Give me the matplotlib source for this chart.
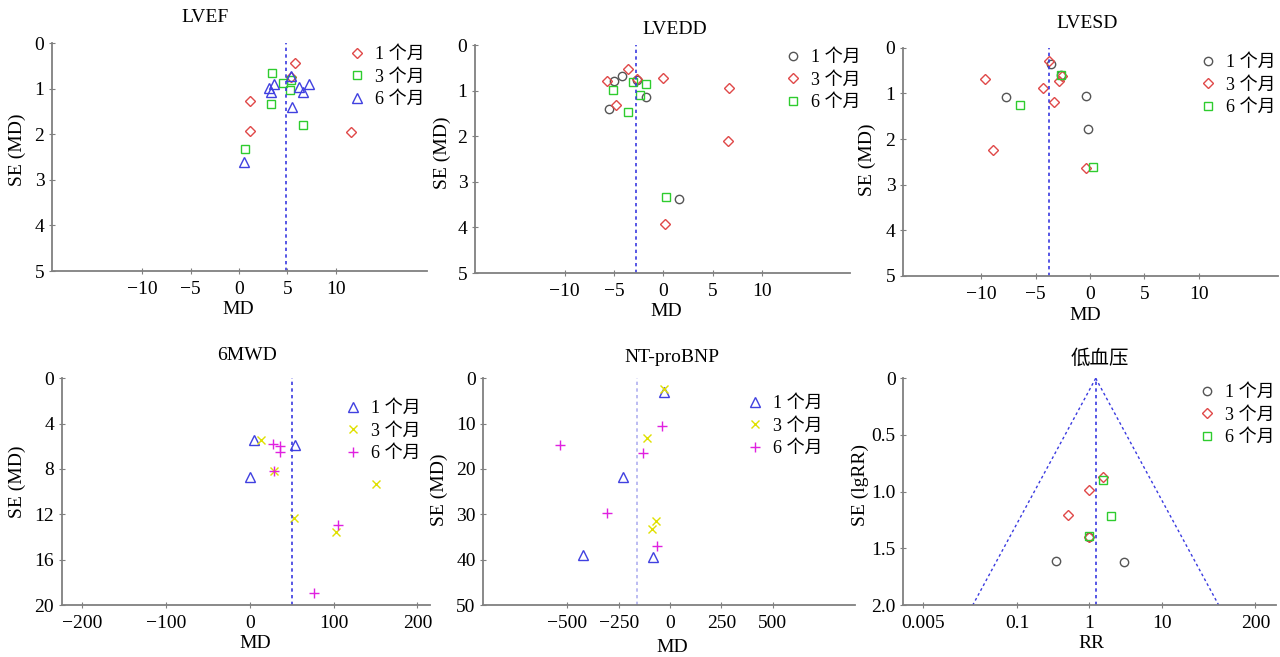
import numpy as np
import matplotlib.pyplot as plt

plt.rcParams['font.family'] = ['Liberation Serif', 'Noto Sans CJK SC']

W, H = 1280, 657

# ---------------- datos ----------------
labels = ["1 个月", "3 个月", "6 个月"]

# LVEF
lvef_1m_md = [5.74, 5.4, 1.13, 1.13, 11.55]
lvef_1m_se = [0.43, 0.75, 1.27, 1.93, 1.96]
lvef_3m_md = [3.37, 4.57, 5.36, 5.22, 3.3, 6.56, 0.65]
lvef_3m_se = [0.65, 0.87, 0.81, 1.04, 1.34, 1.80, 2.33]
lvef_6m_md = [5.36, 3.6, 3.06, 3.27, 6.22, 7.25, 6.6, 5.43, 0.52]
lvef_6m_se = [0.72, 0.9, 0.99, 1.07, 0.97, 0.91, 1.07, 1.40, 2.62]
lvef_pooled = 4.8

# LVEDD
lvedd_1m_md = [-5.03, -4.22, -2.7, -1.78, -5.57, 1.59]
lvedd_1m_se = [0.78, 0.68, 0.77, 1.13, 1.41, 3.38]
lvedd_3m_md = [-3.61, -5.77, -2.66, 0.0, 6.66, -4.79, 6.52, 0.2]
lvedd_3m_se = [0.53, 0.80, 0.75, 0.72, 0.95, 1.31, 2.11, 3.92]
lvedd_6m_md = [-3.1, -1.82, -5.13, -2.33, -3.58, 0.27]
lvedd_6m_se = [0.81, 0.85, 0.99, 1.10, 1.48, 3.33]
lvedd_pooled = -2.77

# LVESD
lvesd_1m_md = [-3.62, -7.7, -0.37, -0.21, -2.64]
lvesd_1m_se = [0.36, 1.09, 1.06, 1.78, 0.59]
lvesd_3m_md = [-3.8, -9.66, -2.55, -2.82, -4.32, -3.34, -8.89, -0.4]
lvesd_3m_se = [0.29, 0.69, 0.62, 0.74, 0.88, 1.18, 2.23, 2.64]
lvesd_6m_md = [-2.64, -6.44, 0.25]
lvesd_6m_se = [0.59, 1.26, 2.61]
lvesd_pooled = -3.8

# 6MWD
mwd_1m_md = [5.6, 54.5, 0.8]
mwd_1m_se = [5.47, 5.86, 8.74]
mwd_3m_md = [13.1, 29.4, 151, 53.3, 103]
mwd_3m_se = [5.47, 8.21, 9.3, 12.33, 13.57]
mwd_6m_md = [27.4, 35.8, 35.8, 28.6, 105.7, 76.3]
mwd_6m_se = [5.83, 5.95, 6.5, 8.21, 12.98, 18.92]
mwd_pooled = 50.5

# NT-proBNP
bnp_1m_md = [-27.6, -230, -424, -81]
bnp_1m_se = [2.95, 21.7, 39.0, 39.35]
bnp_3m_md = [-31, -110.6, -68, -87.7]
bnp_3m_se = [2.43, 13.24, 31.4, 33.2]
bnp_6m_md = [-37.3, -537, -133, -305, -65]
bnp_6m_se = [10.45, 14.64, 16.48, 29.7, 36.9]
bnp_pooled = -159

# 低血压 (RR)
hip_1m_rr = [0.343, 3.03, 1.0]
hip_1m_se = [1.608, 1.617, 1.397]
hip_3m_rr = [1.53, 1.0, 0.51, 1.0]
hip_3m_se = [0.870, 0.982, 1.208, 1.397]
hip_6m_rr = [1.53, 2.02, 1.0]
hip_6m_se = [0.894, 1.211, 1.39]
hip_pooled = 1.226

# ---------------- estilos ----------------
CIRC = dict(marker='o', ms=6, mfc='none', mec='#555555', mew=1.0)
DIAM = dict(marker='D', ms=5.5, mfc='none', mec='#e04848', mew=1.0)
SQR = dict(marker='s', ms=5.5, mfc='none', mec='#2ecc2e', mew=1.0)
TRI = dict(marker='^', ms=7, mfc='none', mec='#4040e0', mew=1.0)
CRUZ = dict(marker='x', ms=6, mec='#e0e000', mew=1.0)
MAS = dict(marker='+', ms=7, mec='#e020e0', mew=1.0)


def rect(x0, y0, x1, y1):
    return [x0 / W, 1 - y1 / H, (x1 - x0) / W, (y1 - y0) / H]


def panel(fig, box, title, title_xy, series, pooled, xlim, xticks, ymax, yticks,
          xlabel, ylabel, xlabel_xy, ylabel_xy, leg_xy, line_color='#3a3ae0',
          xticklabels=None, yticklabels=None, logx=False):
    ax = fig.add_axes(rect(*box))
    for x, y, lab, sty in series:
        ax.plot(x, y, ls='none', label=lab, **sty)
    ax.axvline(pooled, color=line_color, ls=(0, (2, 2)), lw=1.2)
    if logx:
        ax.set_xscale('log')
        ax.minorticks_off()
    ax.set_xlim(*xlim)
    ax.set_ylim(ymax, 0)
    ax.set_xticks(xticks)
    ax.set_yticks(yticks)
    if xticklabels is not None:
        ax.set_xticklabels(xticklabels)
    if yticklabels is not None:
        ax.set_yticklabels(yticklabels)
    for s in ['top', 'right']:
        ax.spines[s].set_visible(False)
    for s in ['left', 'bottom']:
        ax.spines[s].set_color('#808080')
        ax.spines[s].set_linewidth(1.3)
    ax.tick_params(axis='x', direction='inout', length=5, color='#808080', labelsize=14, pad=5)
    ax.tick_params(axis='y', direction='inout', length=5, color='#808080', labelsize=14, pad=3)

    # textos colocados en pixeles de la figura original
    x0, y0, x1, y1 = box
    fx = lambda px: (px - x0) / (x1 - x0)
    fy = lambda py: (y1 - py) / (y1 - y0)
    ax.text(fx(title_xy[0]), fy(title_xy[1]), title, transform=ax.transAxes,
            ha='center', va='center', fontsize=14)
    ax.text(fx(xlabel_xy[0]), fy(xlabel_xy[1]), xlabel, transform=ax.transAxes,
            ha='center', va='center', fontsize=14)
    ax.text(fx(ylabel_xy[0]), fy(ylabel_xy[1]), ylabel, transform=ax.transAxes,
            ha='center', va='center', fontsize=14, rotation=90)
    ax.legend(loc='upper left', bbox_to_anchor=(leg_xy[0] / W, 1 - leg_xy[1] / H),
              bbox_transform=fig.transFigure, frameon=False, fontsize=13,
              handlelength=1.0, handletextpad=0.5, labelspacing=0.31,
              borderpad=0, borderaxespad=0, numpoints=1)
    return ax


fig = plt.figure(figsize=(12.8, 6.57), dpi=100)

panel(fig, (52, 43, 427, 271), "LVEF", (205, 18),
      [(lvef_1m_md, lvef_1m_se, labels[0], DIAM),
       (lvef_3m_md, lvef_3m_se, labels[1], SQR),
       (lvef_6m_md, lvef_6m_se, labels[2], TRI)],
      lvef_pooled, (-19.3, 19.4), [-10, -5, 0, 5, 10], 5, [0, 1, 2, 3, 4, 5],
      "MD", "SE (MD)", (238, 310), (17, 150), (348, 46))

panel(fig, (475, 45, 850, 273), "LVEDD", (675, 30),
      [(lvedd_1m_md, lvedd_1m_se, labels[0], CIRC),
       (lvedd_3m_md, lvedd_3m_se, labels[1], DIAM),
       (lvedd_6m_md, lvedd_6m_se, labels[2], SQR)],
      lvedd_pooled, (-19.1, 18.9), [-10, -5, 0, 5, 10], 5, [0, 1, 2, 3, 4, 5],
      "MD", "SE (MD)", (666, 312), (442, 153), (784, 49))

panel(fig, (903, 47.7, 1278, 276), "LVESD", (1087, 23),
      [(lvesd_1m_md, lvesd_1m_se, labels[0], CIRC),
       (lvesd_3m_md, lvesd_3m_se, labels[1], DIAM),
       (lvesd_6m_md, lvesd_6m_se, labels[2], SQR)],
      lvesd_pooled, (-17.2, 17.3), [-10, -5, 0, 5, 10], 5, [0, 1, 2, 3, 4, 5],
      "MD", "SE (MD)", (1085, 316), (867, 160), (1199, 54))

panel(fig, (61.7, 378.3, 430, 605), "6MWD", (247, 356),
      [(mwd_1m_md, mwd_1m_se, labels[0], TRI),
       (mwd_3m_md, mwd_3m_se, labels[1], CRUZ),
       (mwd_6m_md, mwd_6m_se, labels[2], MAS)],
      mwd_pooled, (-224, 215), [-200, -100, 0, 100, 200], 20, [0, 4, 8, 12, 16, 20],
      "MD", "SE (MD)", (255, 643), (17, 482), (344, 400))

panel(fig, (483.3, 378.3, 855, 605), "NT-proBNP", (672, 357),
      [(bnp_1m_md, bnp_1m_se, labels[0], TRI),
       (bnp_3m_md, bnp_3m_se, labels[1], CRUZ),
       (bnp_6m_md, bnp_6m_se, labels[2], MAS)],
      bnp_pooled, (-909, 901), [-500, -250, 0, 250, 500], 50, [0, 10, 20, 30, 40, 50],
      "MD", "SE (MD)", (672, 647), (439, 490), (746, 395), line_color='#b0b0f0')

ax6 = panel(fig, (903.3, 378.3, 1276, 605), "低血压", (1100, 359),
            [(hip_1m_rr, hip_1m_se, labels[0], CIRC),
             (hip_3m_rr, hip_3m_se, labels[1], DIAM),
             (hip_6m_rr, hip_6m_se, labels[2], SQR)],
            hip_pooled, (0.00265, 385), [0.005, 0.1, 1, 10, 200], 2.0,
            [0, 0.5, 1.0, 1.5, 2.0], "RR", "SE (lgRR)", (1091, 643), (860, 485),
            (1198, 384), xticklabels=["0.005", "0.1", "1", "10", "200"],
            yticklabels=["0", "0.5", "1.0", "1.5", "2.0"], logx=True)

# embudo de confianza 95% alrededor del RR combinado
se_line = np.array([0, 2.0])
ax6.plot(hip_pooled * np.exp(-1.96 * se_line), se_line, color='#3a3ae0', ls=(0, (2, 2)), lw=1.0)
ax6.plot(hip_pooled * np.exp(1.96 * se_line), se_line, color='#3a3ae0', ls=(0, (2, 2)), lw=1.0)

fig.savefig("out.png", dpi=100)
